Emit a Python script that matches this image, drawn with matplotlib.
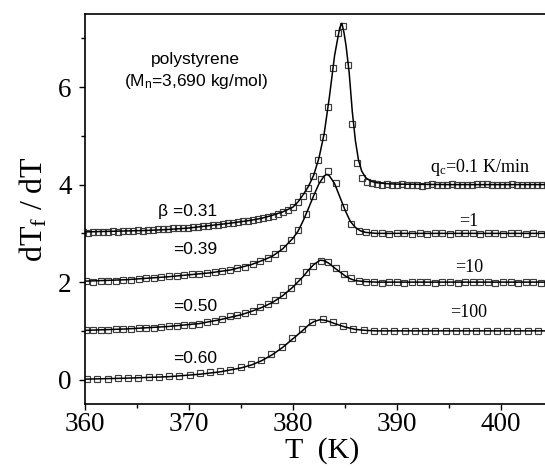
import numpy as np
import matplotlib
matplotlib.use("Agg")
import matplotlib.pyplot as plt

plt.rcParams['mathtext.fontset'] = 'custom'
plt.rcParams['mathtext.rm'] = 'Liberation Serif'
plt.rcParams['mathtext.it'] = 'Liberation Serif:italic'
plt.rcParams['mathtext.sf'] = 'Liberation Sans'

SERIF = 'Liberation Serif'
SANS = 'Liberation Sans'

# ---------------- data ----------------
# measured points: temperature grid start / step, and dTf/dT values (curves offset by 0,1,2,3)
q01_T0, q01_dT = 359.80, 0.48
q01_y = [3.02, 3.01, 3.03, 3.02, 3.03, 3.03, 3.04, 3.03, 3.05, 3.04,
         3.05, 3.06, 3.05, 3.07, 3.07, 3.08, 3.08, 3.09, 3.10, 3.10,
         3.11, 3.12, 3.13, 3.14, 3.15, 3.16, 3.17, 3.18, 3.19, 3.21,
         3.22, 3.23, 3.25, 3.26, 3.27, 3.29, 3.31, 3.33, 3.36, 3.39,
         3.44, 3.48, 3.54, 3.64, 3.77, 3.93, 4.17, 4.51, 4.97, 5.59,
         6.40, 7.10, 7.25, 6.45, 5.25, 4.44, 4.13, 4.06, 4.03, 4.02,
         4.00, 4.01, 3.99, 4.00, 4.01, 3.99, 4.00, 4.00, 3.98, 4.00,
         4.01, 4.00, 3.99, 4.00, 4.01, 4.00, 3.99, 4.00, 4.00, 4.02,
         4.01, 4.01, 4.00, 3.99, 4.00, 4.00, 4.01, 4.00, 3.99, 4.00,
         4.00, 3.99, 4.00, 4.00]

q1_T0, q1_dT = 360.05, 0.73
q1_y = [2.02, 2.01, 2.02, 2.03, 2.03, 2.05, 2.05, 2.07, 2.08, 2.09,
        2.10, 2.12, 2.13, 2.14, 2.16, 2.17, 2.19, 2.20, 2.22, 2.25,
        2.29, 2.32, 2.38, 2.44, 2.49, 2.58, 2.71, 2.87, 3.07, 3.40,
        3.76, 4.12, 4.27, 4.03, 3.55, 3.19, 3.05, 3.03, 3.01,
        3.00, 2.99, 3.00, 3.01, 2.99, 3.00, 2.99, 3.00, 3.00, 2.99,
        3.00, 3.01, 3.00, 2.99, 3.00, 3.00, 2.99, 3.00, 3.00, 2.99,
        3.00, 2.99]

q10_T0, q10_dT = 360.05, 0.73
q10_y = [1.01, 1.01, 1.02, 1.02, 1.03, 1.03, 1.04, 1.05, 1.06, 1.06,
         1.08, 1.09, 1.10, 1.12, 1.13, 1.15, 1.18, 1.21, 1.25, 1.30,
         1.33, 1.37, 1.41, 1.50, 1.55, 1.64, 1.74, 1.88, 2.03, 2.20,
         2.34, 2.44, 2.41, 2.29, 2.17, 2.08, 2.03, 2.00,
         2.00, 1.99, 2.00, 2.00, 1.99, 2.00, 2.01, 2.00, 1.99, 2.00,
         2.00, 1.99, 2.00, 2.00, 2.01, 2.00, 1.99, 2.00, 2.00, 1.99,
         2.00, 2.00, 1.99]

q100_T0, q100_dT = 360.20, 0.985
q100_y = [0.01, 0.02, 0.02, 0.03, 0.04, 0.04, 0.05, 0.06, 0.07, 0.08,
          0.10, 0.13, 0.15, 0.17, 0.20, 0.25, 0.33, 0.41, 0.53, 0.67,
          0.85, 1.04, 1.19, 1.25, 1.18, 1.11, 1.04, 1.02,
          1.00, 0.99, 1.00, 1.00, 0.99, 1.00, 1.00, 0.99, 1.00, 1.00,
          0.99, 1.00, 0.99, 1.00, 1.00, 0.99, 1.00]

# fitted (KWW) curves
fit01_T = [360, 362, 364, 366, 368, 370, 372, 374, 376, 377, 378, 379, 380, 380.5,
           381, 381.5, 382, 382.5, 383, 383.5, 384, 384.3, 384.5, 384.7, 384.9,
           385.1, 385.4, 385.7, 386, 386.3, 386.6, 387, 387.5, 388, 389, 390, 395, 400, 404.5]
fit01_y = [3.03, 3.04, 3.05, 3.06, 3.08, 3.11, 3.16, 3.21, 3.27, 3.31, 3.37, 3.44, 3.54, 3.65,
           3.80, 3.97, 4.20, 4.55, 5.05, 5.80, 6.65, 7.00, 7.22, 7.31, 7.12,
           6.85, 6.30, 5.50, 4.90, 4.50, 4.28, 4.14, 4.07, 4.04, 4.02, 4.01, 4.00, 4.00, 4.00]

fit1_T = [360, 364, 368, 372, 374, 376, 377, 378, 379, 380, 380.5, 381, 381.5, 382,
          382.5, 383, 383.25, 383.5, 384, 384.5, 385, 385.5, 386, 386.5, 387, 388, 404.5]
fit1_y = [2.02, 2.05, 2.11, 2.19, 2.25, 2.36, 2.44, 2.53, 2.68, 2.90, 3.05, 3.27, 3.52, 3.78,
          4.02, 4.18, 4.21, 4.18, 4.02, 3.75, 3.48, 3.25, 3.12, 3.05, 3.02, 3.00, 3.00]

fit10_T = [360, 364, 368, 371, 373, 375, 376, 377, 378, 379, 380, 381, 381.5, 382,
           382.6, 383, 383.5, 384, 384.5, 385, 385.5, 386, 387, 388, 404.5]
fit10_y = [1.01, 1.04, 1.09, 1.15, 1.23, 1.33, 1.40, 1.48, 1.58, 1.72, 1.90, 2.12, 2.25, 2.36,
           2.45, 2.44, 2.38, 2.29, 2.21, 2.13, 2.07, 2.03, 2.01, 2.00, 2.00]

fit100_T = [360, 364, 368, 371, 373, 375, 376, 377, 378, 379, 380, 381, 381.5, 382,
            382.6, 383, 383.5, 384, 385, 386, 387, 388, 404.5]
fit100_y = [0.01, 0.03, 0.06, 0.11, 0.16, 0.24, 0.30, 0.39, 0.51, 0.66, 0.84, 1.02, 1.12, 1.19,
            1.23, 1.22, 1.19, 1.15, 1.08, 1.03, 1.01, 1.00, 1.00]

beta_labels = ['\u03b2 =0.31', '=0.39', '=0.50', '=0.60']
beta_y = [3.45, 2.66, 1.50, 0.44]
rate_labels = ['=1', '=10', '=100']
rate_y = [3.24, 2.29, 1.37]

# ---------------- figure ----------------
fig = plt.figure(figsize=(5.45, 4.68), dpi=100)
ax = fig.add_axes([85 / 545, 64 / 468, 460 / 545, 390 / 468])

series = [(q01_T0, q01_dT, q01_y), (q1_T0, q1_dT, q1_y),
          (q10_T0, q10_dT, q10_y), (q100_T0, q100_dT, q100_y)]
for T0, dT, ys in series:
    xs = T0 + dT * np.arange(len(ys))
    ax.plot(xs, ys, linestyle='none', marker='s', markersize=5.0,
            markerfacecolor='none', markeredgecolor='#3c3c3c', markeredgewidth=0.85)

for T, ys in [(fit01_T, fit01_y), (fit1_T, fit1_y), (fit10_T, fit10_y), (fit100_T, fit100_y)]:
    ax.plot(T, ys, color='black', linewidth=1.1)

ax.set_xlim(360, 404.23)
ax.set_ylim(-0.5, 7.5)
ax.set_xticks([360, 370, 380, 390, 400])
ax.set_xticks([365, 375, 385, 395], minor=True)
ax.set_yticks([0, 2, 4, 6])
ax.set_yticks([1, 3, 5, 7], minor=True)
ax.tick_params(which='both', direction='out', top=False, right=False, width=1.0)
ax.tick_params(which='major', length=4.5, pad=5)
ax.tick_params(axis='x', which='major', pad=1.5)
ax.tick_params(which='minor', length=3)
for lab in ax.get_xticklabels() + ax.get_yticklabels():
    lab.set_fontfamily(SERIF)
    lab.set_fontsize(19.5)
for side in ['left', 'bottom', 'top']:
    ax.spines[side].set_linewidth(1.2)
ax.spines['right'].set_visible(False)

ax.set_xlabel('T  (K)', fontfamily=SERIF, fontsize=21.5)
ax.xaxis.set_label_coords((322 - 85) / 460, -(437.5 - 404) / 390, transform=ax.transAxes)
ax.xaxis.label.set_va('top')
ax.set_ylabel(r'dT$_\mathrm{f}$ / dT', fontfamily=SERIF, fontsize=23, labelpad=6)

ax.text(370.6, 6.57, 'polystyrene', fontfamily=SANS, fontsize=12.5, ha='center', va='center')
ax.text(370.7, 6.11, r'(M$_\mathsf{n}$=3,690 kg/mol)', fontfamily=SANS, fontsize=12.5,
        ha='center', va='center')
for lab, yv in zip(beta_labels, beta_y):
    ax.text(372.7, yv, lab, fontfamily=SANS, fontsize=12.5, ha='right', va='center')
ax.text(393.2, 4.36, r'q$_\mathrm{c}$=0.1 K/min', fontfamily=SERIF, fontsize=13,
        ha='left', va='center')
for lab, yv in zip(rate_labels, rate_y):
    ax.text(396.9, yv, lab, fontfamily=SERIF, fontsize=13, ha='center', va='center')

fig.savefig('out.png', dpi=100)
